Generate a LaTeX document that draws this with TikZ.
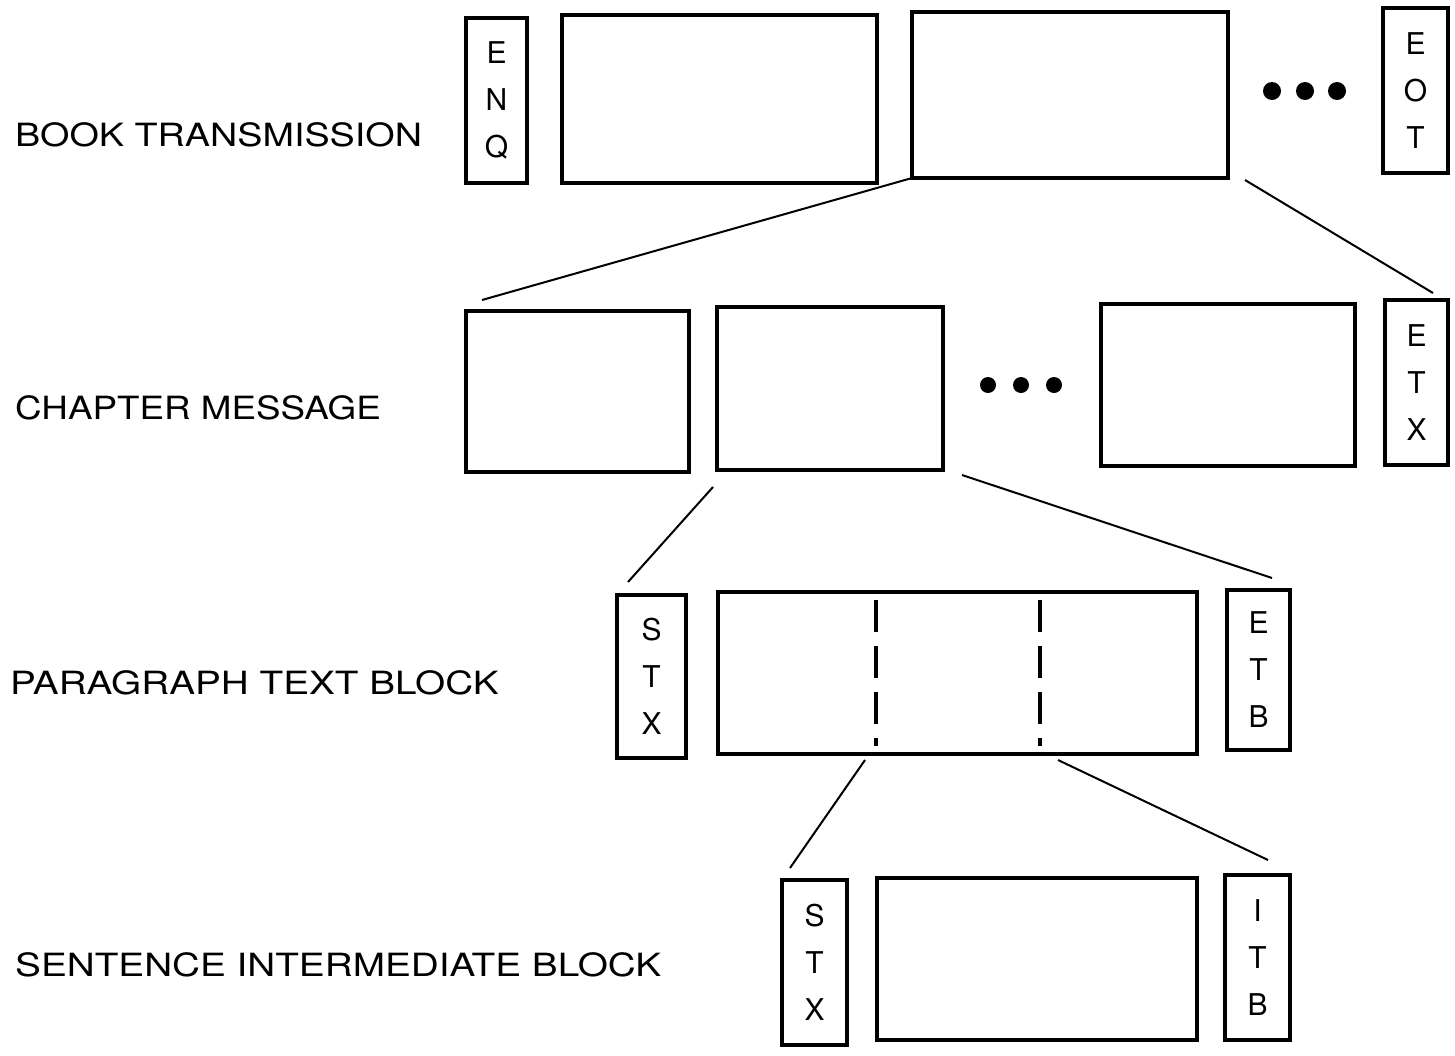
\documentclass[tikz,border=0pt]{standalone}
\usepackage{fontspec}
\setmainfont{TeX Gyre Heros}
\begin{document}
\begin{tikzpicture}[x=1pt,y=-1pt,
  box/.style={draw, line width=3.5pt, inner sep=0pt, outer sep=0pt, anchor=north west},
  ctl/.style={box, font=\fontsize{30}{47}\selectfont, align=center},
  lbl/.style={anchor=west, inner sep=0pt, font=\fontsize{32}{36}\selectfont},
  link/.style={line width=2pt},
  sep/.style={line width=3.5pt, dash pattern=on 32pt off 14pt},
  dotfill/.style={fill=black}]
\useasboundingbox (0,0) rectangle (1455,1055);

% labels
\node[lbl] (l1) at (15,135) {\scalebox{1.18}[1]{BOOK TRANSMISSION}};
\node[lbl] (l2) at (15,408) {\scalebox{1.15}[1]{CHAPTER MESSAGE}};
\node[lbl] (l3) at (10,683) {\scalebox{1.21}[1]{PARAGRAPH TEXT BLOCK}};
\node[lbl] (l4) at (15,965) {\scalebox{1.21}[1]{SENTENCE INTERMEDIATE BLOCK}};

% row 1
\node[ctl, minimum width=61, minimum height=165] (enq) at (466,18) {E\\N\\Q};
\node[box, minimum width=315, minimum height=168] (b1) at (562,15) {};
\node[box, minimum width=316, minimum height=166] (b2) at (912,12) {};
\fill[dotfill] (1272,91) circle (9pt) (1305,91) circle (9pt) (1337,91) circle (9pt);
\node[ctl, minimum width=65, minimum height=165] (eot) at (1383,8) {E\\O\\T};

% row 2
\node[box, minimum width=223, minimum height=161] (c1) at (466,311) {};
\node[box, minimum width=226, minimum height=163] (c2) at (717,307) {};
\fill[dotfill] (988,385) circle (8pt) (1021,385) circle (8pt) (1054,385) circle (8pt);
\node[box, minimum width=254, minimum height=162] (c3) at (1101,304) {};
\node[ctl, minimum width=63, minimum height=165] (etx) at (1385,300) {E\\T\\X};

% row 3
\node[ctl, minimum width=69, minimum height=163] (stx1) at (617,595) {S\\T\\X};
\node[box, minimum width=479, minimum height=162] (p) at (718,592) {};
\draw[sep] (876,600) -- (876,746);
\draw[sep] (1040,600) -- (1040,746);
\node[ctl, minimum width=63, minimum height=160] (etb) at (1227,590) {E\\T\\B};

% row 4
\node[ctl, minimum width=65, minimum height=165] (stx2) at (782,880) {S\\T\\X};
\node[box, minimum width=320, minimum height=162] (s) at (877,878) {};
\node[ctl, minimum width=65, minimum height=165] (itb) at (1225,875) {I\\T\\B};

% connector ends
\coordinate (a1) at (482,300);
\coordinate (a2s) at (1245,180);
\coordinate (a2) at (1433,293);
\coordinate (a3s) at (713,487);
\coordinate (a3) at (628,582);
\coordinate (a4s) at (962,475);
\coordinate (a4) at (1272,578);
\coordinate (a5s) at (865,760);
\coordinate (a5) at (790,868);
\coordinate (a6s) at (1058,760);
\coordinate (a6) at (1268,860);

\draw[link] (b2.south west) -- (a1);
\draw[link] (a2s) -- (a2);
\draw[link] (a3s) -- (a3);
\draw[link] (a4s) -- (a4);
\draw[link] (a5s) -- (a5);
\draw[link] (a6s) -- (a6);
\end{tikzpicture}
\end{document}
